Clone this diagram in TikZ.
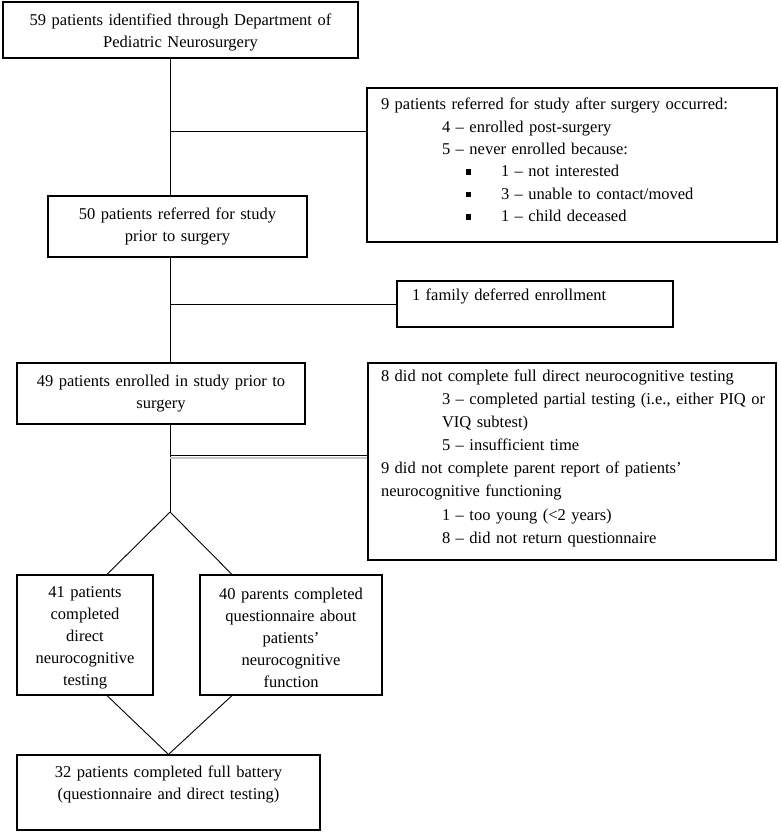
\documentclass[tikz,border=0pt]{standalone}
\usepackage{fontspec}
\setmainfont{Liberation Serif}
\setlength{\parindent}{0pt}
\newcommand{\sqbul}{\rule[2pt]{5pt}{5.5pt}}
\tikzset{
  box/.style={draw, line width=1.1pt, inner ysep=0pt, font=\fontsize{16.5}{22.4}\selectfont},
  conn/.style={draw, line width=0.9pt},
  ghost/.style={draw=gray!45, line width=1.2pt}
}
\begin{document}
\begin{tikzpicture}[x=1pt,y=-1pt]
\useasboundingbox (0,0) rectangle (780,833);

% boxes
\node[box, minimum width=355pt, minimum height=56pt, inner xsep=4pt, text width=347pt, align=center] (b1) at (180.5,30)
  {\mbox{}\\[-6pt]59 patients identified through Department of\\Pediatric Neurosurgery};
\node[box, minimum width=259pt, minimum height=61pt, inner xsep=4pt, text width=251pt, align=center] (b2) at (177.5,226.5)
  {50 patients referred for study\\prior to surgery};
\node[box, minimum width=410pt, minimum height=154pt, inner xsep=14pt, text width=382pt, align=left] (b3) at (572,165)
  {\mbox{9 patients referred for study after surgery occurred:}\\
   \mbox{\hspace*{61pt}4 – enrolled post-surgery}\\
   \mbox{\hspace*{61pt}5 – never enrolled because:}\\
   \mbox{\hspace*{85pt}\sqbul\hspace*{30pt}1 – not interested}\\
   \mbox{\hspace*{85pt}\sqbul\hspace*{30pt}3 – unable to contact/moved}\\
   \mbox{\hspace*{85pt}\sqbul\hspace*{30pt}1 – child deceased}\\[-12pt]\mbox{}};
\node[box, minimum width=276pt, minimum height=46pt, inner xsep=15pt, text width=246pt, align=left] (fam) at (535,304)
  {1 family deferred enrollment\\[-4.5pt]\mbox{}};
\node[box, minimum width=288pt, minimum height=61pt, inner xsep=4pt, text width=280pt, align=center] (b4) at (161,393.5)
  {49 patients enrolled in study prior to\\surgery};
\node[box, minimum width=408pt, minimum height=197pt, inner xsep=13pt, text width=382pt, align=left,
      font=\fontsize{16.5}{23.1}\selectfont] (b5) at (572,461.5)
  {\mbox{8 did not complete full direct neurocognitive testing}\\
   \mbox{\hspace*{61pt}3 – completed partial testing (i.e., either PIQ or}\\
   \mbox{\hspace*{61pt}VIQ subtest)}\\
   \mbox{\hspace*{61pt}5 – insufficient time}\\
   \mbox{9 did not complete parent report of patients’}\\
   \mbox{neurocognitive functioning}\\
   \mbox{\hspace*{61pt}1 – too young (<2 years)}\\
   \mbox{\hspace*{61pt}8 – did not return questionnaire}\\[-13pt]\mbox{}};
\node[box, minimum width=136pt, minimum height=120pt, inner xsep=4pt, text width=128pt, align=center, font=\fontsize{16.5}{22}\selectfont] (b6) at (85,635)
  {\mbox{}\\[-5pt]41 patients\\completed\\direct\\neurocognitive\\testing};
\node[box, minimum width=182pt, minimum height=120pt, inner xsep=4pt, text width=174pt, align=center, font=\fontsize{16.5}{22}\selectfont] (b7) at (291,635)
  {\mbox{}\\[-5pt]40 parents completed\\questionnaire about\\patients’\\neurocognitive\\function};
\node[box, minimum width=303pt, minimum height=75pt, inner xsep=4pt, text width=295pt, align=center] (b8) at (168.5,792.5)
  {32 patients completed full battery\\(questionnaire and direct testing)\\[-2.5pt]\mbox{}};

% junction coordinates
\coordinate (j1) at (170,131);
\coordinate (j2) at (170,304);
\coordinate (j3) at (170,455);
\coordinate (g1) at (170,458);
\coordinate (apex) at (170,512);
\coordinate (dlx) at (107,0);
\coordinate (drx) at (232,0);

% connectors
\draw[conn] (b1.south -| j1) -- (b2.north -| j1);
\draw[conn] (j1) -- (j1 -| b3.west);
\draw[conn] (b2.south -| j2) -- (b4.north -| j2);
\draw[conn] (j2) -- (j2 -| fam.west);
\draw[conn] (b4.south -| j3) -- (apex);
\draw[ghost] (g1) -- (g1 -| b5.west);
\draw[conn] (j3) -- (j3 -| b5.west);
\draw[conn] (apex) -- (b6.north -| dlx);
\draw[conn] (apex) -- (b7.north -| drx);
\draw[conn] (b6.south -| dlx) -- (b8.north);
\draw[conn] (b7.south -| drx) -- (b8.north);
\end{tikzpicture}
\end{document}
